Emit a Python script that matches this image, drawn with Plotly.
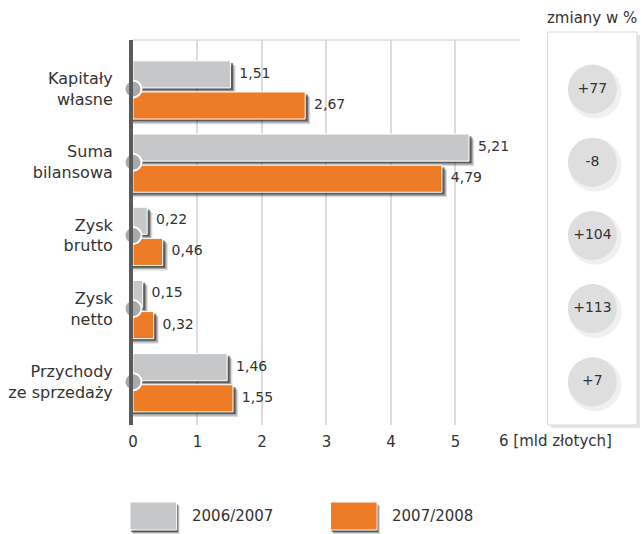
import plotly.graph_objects as go

categories = ["Kapitały<br>własne", "Suma<br>bilansowa", "Zysk<br>brutto", "Zysk<br>netto", "Przychody<br>ze sprzedaży"]
series_names = ["2006/2007", "2007/2008"]
values_2006 = [1.51, 5.21, 0.22, 0.15, 1.46]
values_2007 = [2.67, 4.79, 0.46, 0.32, 1.55]
changes = ["+77", "-8", "+104", "+113", "+7"]
x_ticks = [0, 1, 2, 3, 4, 5]
unit_label = "6 [mld złotych]"
panel_title = "zmiany w %"

GRAY = "#c6c7c9"
ORANGE = "#ee7b26"
TXT = "#333333"
FONT = "DejaVu Sans"
W, H = 642, 534


def px(x):
    return x / W


def py(y):
    return 1 - y / H


ypos = list(range(len(categories)))
fmt = lambda v: f"{v:.2f}".replace(".", ",")

fig = go.Figure()

series = [(values_2006, GRAY, -0.385), (values_2007, ORANGE, 0.04)]
BW = 0.37

# shadows
for vals, col, off in series:
    for k, op in [(3, 0.15), (2, 0.28), (1, 0.5)]:
        fig.add_trace(go.Bar(
            y=ypos, x=[v + 0.02 * k + 0.02 for v in vals], base=0, orientation="h",
            offset=off + 0.02 * k + 0.01, width=BW,
            marker=dict(color=f"rgba(20,20,20,{op})", line=dict(width=0)),
            showlegend=False, hoverinfo="skip"))

for (vals, col, off), name in zip(series, series_names):
    fig.add_trace(go.Bar(
        y=ypos, x=vals, orientation="h", offset=off, width=BW, name=name,
        marker=dict(color=col, line=dict(color="white", width=1)),
        showlegend=False))
    fig.add_trace(go.Scatter(
        y=[p + off + BW / 2 for p in ypos], x=vals, mode="text",
        text=["  " + fmt(v) for v in vals], textposition="middle right",
        textfont=dict(family=FONT, size=14, color=TXT),
        showlegend=False, hoverinfo="skip", cliponaxis=False))

# axis circles
fig.add_trace(go.Scatter(
    y=ypos, x=[0] * len(ypos), mode="markers",
    marker=dict(size=17, color="#a8a9ab", line=dict(color="white", width=2)),
    showlegend=False, hoverinfo="skip", cliponaxis=False))

# right panel circles
fig.add_trace(go.Scatter(
    y=[p + 0.04 for p in ypos], x=[0.53] * len(ypos), xaxis="x2", mode="markers",
    marker=dict(size=53, color="rgba(0,0,0,0.06)", line=dict(width=0)),
    showlegend=False, hoverinfo="skip", cliponaxis=False))
fig.add_trace(go.Scatter(
    y=ypos, x=[0.5] * len(ypos), xaxis="x2", mode="markers+text",
    marker=dict(size=49, color="#dededf", line=dict(width=0)),
    text=changes, textposition="middle center",
    textfont=dict(family=FONT, size=14, color=TXT),
    showlegend=False, hoverinfo="skip", cliponaxis=False))

ytop, ybot = py(40), py(425)

fig.update_layout(
    width=W, height=H, margin=dict(l=0, r=0, t=0, b=0),
    paper_bgcolor="white", plot_bgcolor="white",
    barmode="overlay",
    font=dict(family=FONT, color=TXT, size=15),
    xaxis=dict(domain=[px(129), px(519)], range=[0, 6], tickvals=x_ticks,
               ticktext=[str(t) for t in x_ticks],
               showgrid=True, gridcolor="#dcdcdc", gridwidth=1.5,
               zeroline=False, showline=False, ticks="", ticklabelstandoff=6,
               tickfont=dict(family=FONT, size=15, color=TXT)),
    xaxis2=dict(domain=[px(547), px(637)], range=[0, 1], anchor="y",
                visible=False),
    yaxis=dict(domain=[ybot, ytop], range=[4.59, -0.67], tickvals=ypos,
               ticktext=categories, showgrid=False, zeroline=False,
               showline=True, linecolor="#5a5a5a", linewidth=4,
               ticks="", ticklabelstandoff=13,
               tickfont=dict(family=FONT, size=16, color=TXT)),
)

shapes = []
# top border of plot
shapes.append(dict(type="line", xref="x domain", yref="paper", x0=0, x1=1,
                   y0=ytop, y1=ytop, line=dict(color="#dcdcdc", width=1.5), layer="below"))
# panel box with shadow
px0, px1, py0, py1 = px(547), px(637), py(425), py(32)
shapes.append(dict(type="rect", xref="paper", yref="paper",
                   x0=px0 + 3 / W, x1=px1 + 3 / W, y0=py0 - 3 / H, y1=py1 - 3 / H,
                   fillcolor="rgba(0,0,0,0.10)", line=dict(width=0), layer="below"))
shapes.append(dict(type="rect", xref="paper", yref="paper",
                   x0=px0, x1=px1, y0=py0, y1=py1,
                   fillcolor="white", line=dict(color="#d9d9d9", width=1), layer="below"))

annotations = [
    dict(text=panel_title, x=px(592), y=py(18), xref="paper", yref="paper",
         showarrow=False, xanchor="center", yanchor="middle",
         font=dict(family=FONT, size=15, color=TXT)),
    dict(text=unit_label, x=6, xref="x", y=py(441), yref="paper",
         showarrow=False, xanchor="left", yanchor="middle", xshift=-23,
         font=dict(family=FONT, size=15, color=TXT)),
]

# legend
leg = [(126, GRAY), (328, ORANGE)]
for (lx, col), name in zip(leg, series_names):
    sx0, sx1 = px(lx), px(lx + 47)
    sy1, sy0 = py(502), py(530)
    for k, op in [(3, 0.15), (2, 0.3), (1, 0.5)]:
        shapes.append(dict(type="rect", xref="paper", yref="paper",
                           x0=sx0 + k / W, x1=sx1 + k / W, y0=sy0 - (k + 1) / H, y1=sy1 - (k + 1) / H,
                           fillcolor=f"rgba(20,20,20,{op})", line=dict(width=0)))
    shapes.append(dict(type="rect", xref="paper", yref="paper",
                       x0=sx0, x1=sx1, y0=sy0, y1=sy1,
                       fillcolor=col, line=dict(color="white", width=1)))
    annotations.append(dict(text=name, x=px(lx + 60), y=py(516), xref="paper", yref="paper",
                            showarrow=False, xanchor="left", yanchor="middle",
                            font=dict(family=FONT, size=15, color=TXT)))

fig.update_layout(shapes=shapes, annotations=annotations)
fig.write_html("out.html", config={"displayModeBar": False},
               post_script="document.body.style.margin='0px';document.body.style.overflow='hidden';")
